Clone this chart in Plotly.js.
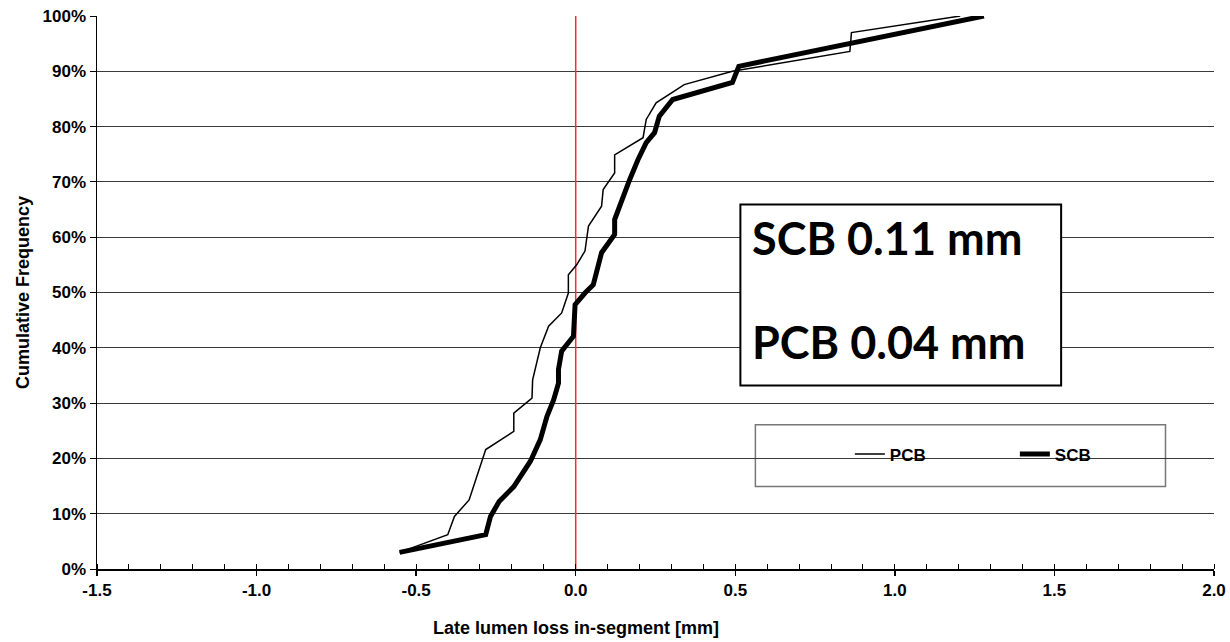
<!DOCTYPE html>
<html>
<head>
<meta charset="utf-8">
<script src="https://cdn.plot.ly/plotly-3.0.1.min.js"></script>
<style>html,body{margin:0;padding:0;background:#fff;}#chart{width:1230px;height:642px;}</style>
</head>
<body>
<div id="chart"></div>
<script>
// Data (late lumen loss in mm vs cumulative frequency)
const pcbX = [-0.552, -0.401, -0.380, -0.334, -0.313, -0.282, -0.194, -0.194, -0.137, -0.135, -0.111, -0.085, -0.044, -0.023, -0.023, 0.003, 0.029, 0.040, 0.081, 0.086, 0.122, 0.122, 0.211, 0.221, 0.252, 0.340, 0.491, 0.859, 0.864, 1.205];
const pcbY = [0.030, 0.062, 0.095, 0.125, 0.162, 0.216, 0.249, 0.282, 0.309, 0.342, 0.400, 0.439, 0.463, 0.499, 0.532, 0.550, 0.575, 0.620, 0.656, 0.686, 0.716, 0.749, 0.780, 0.813, 0.843, 0.876, 0.900, 0.936, 0.970, 1.000];
const scbX = [-0.552, -0.282, -0.267, -0.240, -0.194, -0.142, -0.111, -0.090, -0.069, -0.054, -0.054, -0.044, -0.007, -0.002, 0.029, 0.055, 0.081, 0.122, 0.122, 0.158, 0.169, 0.195, 0.221, 0.247, 0.262, 0.304, 0.491, 0.511, 1.279];
const scbY = [0.030, 0.062, 0.095, 0.122, 0.149, 0.195, 0.234, 0.276, 0.306, 0.336, 0.361, 0.394, 0.421, 0.478, 0.499, 0.514, 0.572, 0.605, 0.632, 0.692, 0.704, 0.740, 0.771, 0.789, 0.819, 0.849, 0.880, 0.909, 1.000];
const refX = [0, 0];
const refY = [0, 1];
const seriesNames = ['PCB', 'SCB'];
const boxLines = ['SCB 0.11 mm', 'PCB 0.04 mm'];
const xTitle = 'Late lumen loss in-segment [mm]';
const yTitle = 'Cumulative Frequency';
const xTickVals = [-1.5, -1.0, -0.5, 0.0, 0.5, 1.0, 1.5, 2.0];
const xTickText = ['-1.5', '-1.0', '-0.5', '0.0', '0.5', '1.0', '1.5', '2.0'];
const yTickVals = [0, 0.1, 0.2, 0.3, 0.4, 0.5, 0.6, 0.7, 0.8, 0.9, 1.0];
const yTickText = ['0%', '10%', '20%', '30%', '40%', '50%', '60%', '70%', '80%', '90%', '100%'];

const FONT = 'Liberation Sans, Arial, sans-serif';

const traces = [
  {x: refX, y: refY, mode: 'lines', line: {color: '#ff2a2a', width: 1.5}, showlegend: false, hoverinfo: 'skip'},
  {x: pcbX, y: pcbY, name: seriesNames[0], mode: 'lines', line: {color: '#000', width: 1.5}},
  {x: scbX, y: scbY, name: seriesNames[1], mode: 'lines', line: {color: '#000', width: 5}}
];

const layout = {
  width: 1230, height: 642,
  margin: {l: 97, r: 16, t: 16, b: 73},
  paper_bgcolor: '#fff', plot_bgcolor: '#fff',
  font: {family: FONT, color: '#000'},
  xaxis: {
    range: [-1.5, 2.0], tickvals: xTickVals, ticktext: xTickText,
    showgrid: false, zeroline: false, showline: true, linecolor: '#000', linewidth: 1.5,
    ticks: 'outside', ticklen: 5, tickwidth: 1.5, tickcolor: '#000',
    minor: {dtick: 0.1, ticks: 'inside', ticklen: 5, tickwidth: 1, tickcolor: '#000', showgrid: false},
    tickfont: {family: FONT, size: 17, weight: 'bold'}
  },
  yaxis: {
    range: [0, 1.0], tickvals: yTickVals, ticktext: yTickText,
    showgrid: true, gridcolor: '#3a3a3a', gridwidth: 1,
    zeroline: false, showline: true, linecolor: '#000', linewidth: 1.5,
    ticks: 'outside', ticklen: 6, tickwidth: 1, tickcolor: '#000',
    tickfont: {family: FONT, size: 17, weight: 'bold'},
    title: {text: yTitle, font: {family: FONT, size: 18, weight: 'bold'}, standoff: 8}
  },
  showlegend: true,
  legend: {
    orientation: 'h', x: 0.674, y: 0.207, xanchor: 'left', yanchor: 'middle',
    bgcolor: 'rgba(0,0,0,0)', borderwidth: 0,
    font: {family: FONT, size: 17, weight: 'bold'},
    entrywidth: 120, entrywidthmode: 'pixels', traceorder: 'normal'
  },
  shapes: [
    {type: 'rect', xref: 'x', yref: 'y', x0: 0.516, x1: 1.521, y0: 0.332, y1: 0.659,
     line: {color: '#000', width: 2}, fillcolor: '#fff', layer: 'above'},
    {type: 'rect', xref: 'x', yref: 'y', x0: 0.563, x1: 1.848, y0: 0.149, y1: 0.261,
     line: {color: '#777', width: 1.5}, fillcolor: '#fff', layer: 'below'}
  ],
  annotations: [
    {xref: 'x', yref: 'y', x: 0.545, y: 0.599, xanchor: 'left', yanchor: 'middle', showarrow: false,
     text: boxLines[0], font: {family: 'Lato, sans-serif', size: 45, weight: 'bold', color: '#000'}},
    {xref: 'x', yref: 'y', x: 0.545, y: 0.411, xanchor: 'left', yanchor: 'middle', showarrow: false,
     text: boxLines[1], font: {family: 'Lato, sans-serif', size: 45, weight: 'bold', color: '#000'}},
    {xref: 'x', yref: 'paper', x: 0.0, y: -0.107, xanchor: 'center', yanchor: 'middle', showarrow: false,
     text: xTitle, font: {family: FONT, size: 18, weight: 'bold', color: '#000'}}
  ]
};

Plotly.newPlot('chart', traces, layout, {displayModeBar: false, staticPlot: true});
</script>
</body>
</html>
